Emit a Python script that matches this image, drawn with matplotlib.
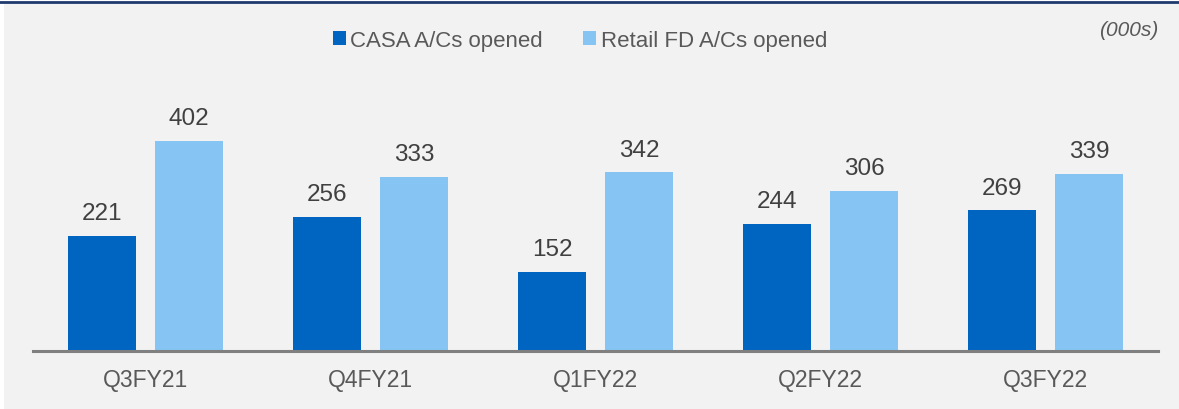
import matplotlib
matplotlib.use("Agg")
import matplotlib.pyplot as plt
from matplotlib.patches import Rectangle, Patch
from matplotlib.lines import Line2D
import numpy as np

categories = ["Q3FY21", "Q4FY21", "Q1FY22", "Q2FY22", "Q3FY22"]
casa = [221, 256, 152, 244, 269]
retail_fd = [402, 333, 342, 306, 339]
series_names = ["CASA A/Cs opened", "Retail FD A/Cs opened"]
unit_note = "(000s)"

c_casa = "#0064C1"
c_fd = "#86C5F3"
bg = "#F2F2F2"
txt = "#595959"

plt.rcParams['font.family'] = ['Liberation Sans', 'DejaVu Sans']

W, H = 1179, 410
fig = plt.figure(figsize=(W / 100, H / 100), dpi=100)
fig.patch.set_facecolor("white")
fig.patches.append(Rectangle((4 / W, 0), 1 - 4 / W, 1 - 4 / H, transform=fig.transFigure,
                             facecolor=bg, edgecolor="none", zorder=-10))
fig.lines.append(Line2D([0, 1], [1 - 2.5 / H, 1 - 2.5 / H], transform=fig.transFigure,
                        color="#1F3A6E", linewidth=2.0, zorder=-5))

ax = fig.add_axes([33 / W, 58 / H, 1125 / W, 292 / H])
ax.set_zorder(5)
ax.set_facecolor("none")
x = np.arange(len(categories))
bw = 0.302
off = 0.193
b1 = ax.bar(x - off, casa, bw, color=c_casa, zorder=2)
b2 = ax.bar(x + off, retail_fd, bw, color=c_fd, zorder=2)
ax.set_xlim(-0.5, len(categories) - 0.5)
ax.set_ylim(0, 559)

for bars, vals in ((b1, casa), (b2, retail_fd)):
    for r, v in zip(bars, vals):
        ax.annotate(str(v), (r.get_x() + r.get_width() / 2, v), xytext=(0, 8.5),
                    textcoords="offset points", ha="center", va="bottom",
                    fontsize=17.5, color="#404040")

for s in ("top", "right", "left"):
    ax.spines[s].set_visible(False)
ax.spines["bottom"].set_color("#808080")
ax.spines["bottom"].set_linewidth(2.2)
ax.set_yticks([])
ax.set_xticks(x)
ax.set_xticklabels(categories, fontsize=16.5, color=txt)
ax.tick_params(axis="x", length=0, pad=12.5)

handles = [Patch(facecolor=c_casa, edgecolor="none"), Patch(facecolor=c_fd, edgecolor="none")]
leg = fig.legend(handles, series_names, loc="center", bbox_to_anchor=(580 / W, 1 - 41 / H),
                 ncol=2, frameon=False, fontsize=16, handlelength=0.6, handleheight=0.6,
                 handletextpad=0.2, columnspacing=1.8, labelcolor=txt, borderpad=0)
leg.set_zorder(6)

fig.text(1158 / W, 1 - 31 / H, unit_note, ha="right", va="center", fontsize=15,
         style="italic", color=txt)

fig.savefig("out.png", dpi=100, facecolor=fig.get_facecolor())
